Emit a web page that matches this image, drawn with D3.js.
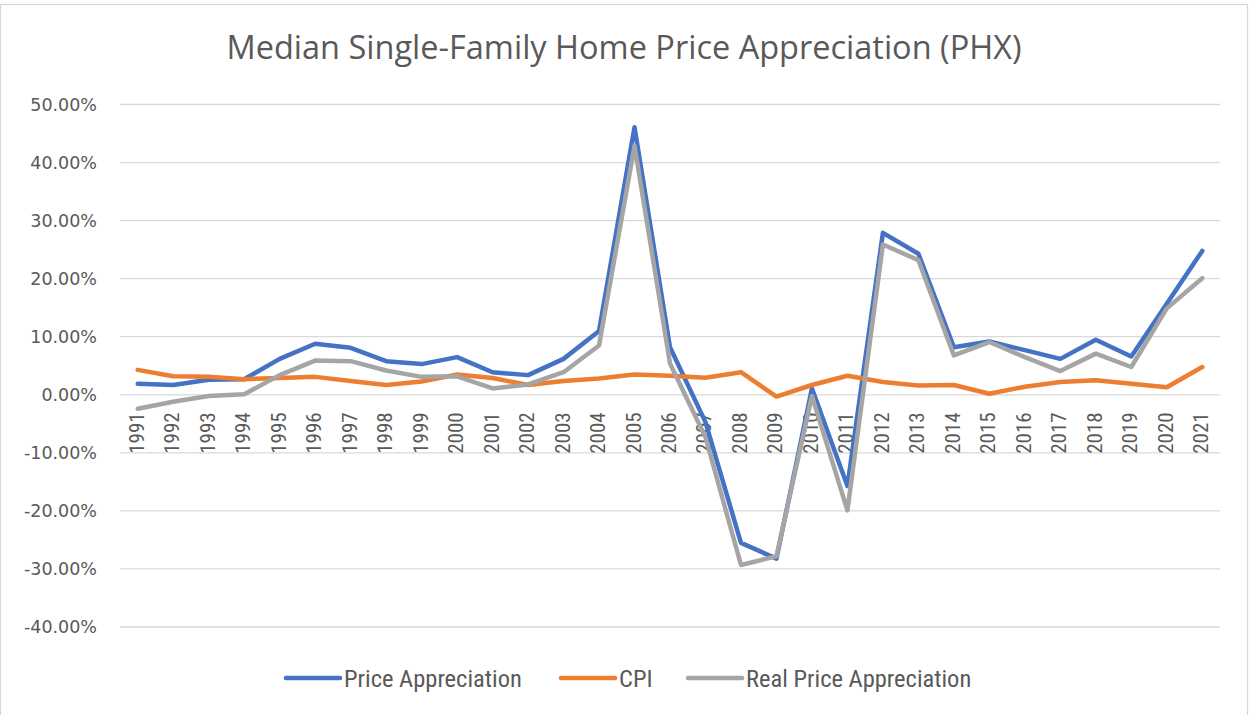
<!DOCTYPE html>
<html>
<head>
<meta charset="utf-8">
<script src="https://cdn.jsdelivr.net/npm/d3@7"></script>
<style>
  html, body { margin: 0; padding: 0; background: #fff; }
  svg { display: block; }
</style>
</head>
<body>
<div id="chart"></div>
<script>
// ── Data (annual % change, Phoenix) ─────────────────────────
const years = d3.range(1991, 2022).map(String);

const priceAppreciation = [1.8, 1.6, 2.5, 2.6, 6.1, 8.7, 8.0, 5.7, 5.2, 6.4, 3.8, 3.3, 6.1, 10.9, 46.0,
  8.1, -4.8, -25.6, -28.3, 1.0, -15.8, 27.8, 24.2, 8.1, 9.1, 7.6, 6.1, 9.4, 6.5, 15.6, 24.7];

const cpi = [4.2, 3.1, 3.0, 2.6, 2.8, 3.0, 2.3, 1.6, 2.2, 3.4, 2.8, 1.6, 2.3, 2.7, 3.4,
  3.2, 2.85, 3.8, -0.4, 1.6, 3.2, 2.1, 1.5, 1.6, 0.1, 1.3, 2.1, 2.4, 1.8, 1.2, 4.7];

const realPriceAppreciation = [-2.5, -1.3, -0.3, 0.0, 3.3, 5.8, 5.7, 4.1, 3.0, 3.1, 1.0, 1.7, 3.8, 8.4, 42.8,
  5.3, -7.4, -29.4, -27.9, -0.3, -20.0, 25.8, 23.1, 6.7, 9.0, 6.4, 4.0, 7.0, 4.7, 14.8, 20.0];

const yTicks = [-40, -30, -20, -10, 0, 10, 20, 30, 40, 50];

const series = [
  { name: 'Price Appreciation',      values: priceAppreciation,     color: '#4472C4' },
  { name: 'CPI',                     values: cpi,                   color: '#ED7D31' },
  { name: 'Real Price Appreciation', values: realPriceAppreciation, color: '#A5A5A5' },
];

// ── Layout ──────────────────────────────────────────────────
const width = 1249, height = 715;
const plot = { left: 120, right: 1220, top: 104, bottom: 626.5 };
const textColor = '#595959';
const gridColor = '#d9d9d9';

const svg = d3.select('#chart').append('svg')
  .attr('width', width)
  .attr('height', height);

// chart border
svg.append('rect')
  .attr('x', 0.5).attr('y', 4.5)
  .attr('width', width - 2).attr('height', height + 10)
  .attr('fill', '#fff')
  .attr('stroke', gridColor)
  .attr('stroke-width', 1.3);

const x = d3.scalePoint()
  .domain(years)
  .range([plot.left, plot.right])
  .padding(0.5);

const y = d3.scaleLinear()
  .domain([-40, 50])
  .range([plot.bottom, plot.top]);

// ── Title ───────────────────────────────────────────────────
svg.append('text')
  .attr('x', 624)
  .attr('y', 59)
  .attr('text-anchor', 'middle')
  .attr('fill', textColor)
  .attr('font-family', '"Open Sans", sans-serif')
  .attr('font-size', 32.5)
  .text('Median Single-Family Home Price Appreciation (PHX)');

// ── Gridlines + y axis labels ───────────────────────────────
const yAxis = d3.axisLeft(y)
  .tickValues(yTicks)
  .tickSize(-(plot.right - plot.left))
  .tickPadding(23)
  .tickFormat(d => d.toFixed(2) + '%');

const yG = svg.append('g')
  .attr('transform', `translate(${plot.left},0)`)
  .call(yAxis);
yG.select('.domain').remove();
yG.selectAll('.tick line').attr('stroke', gridColor).attr('stroke-width', 1.3);
yG.selectAll('.tick text')
  .attr('fill', textColor)
  .attr('font-family', '"DejaVu Sans", sans-serif')
  .attr('font-size', 17.5)
  .attr('dy', '0.36em');

// ── Category labels (sit on the 0% line) ────────────────────
const xG = svg.append('g')
  .attr('transform', `translate(0,${y(0)})`);
xG.selectAll('text')
  .data(years)
  .join('text')
  .attr('transform', d => `translate(${x(d) + 6},18) rotate(-90)`)
  .attr('text-anchor', 'end')
  .attr('fill', textColor)
  .attr('font-family', '"Liberation Sans Narrow", "Roboto Condensed", "Liberation Sans", sans-serif')
  .attr('font-size', 21)
  .text(d => d);

// ── Lines ───────────────────────────────────────────────────
const line = d3.line()
  .x((d, i) => x(years[i]))
  .y(d => y(d));

svg.append('g').selectAll('path')
  .data(series)
  .join('path')
  .attr('d', s => line(s.values))
  .attr('fill', 'none')
  .attr('stroke', s => s.color)
  .attr('stroke-width', 4.5)
  .attr('stroke-linejoin', 'round')
  .attr('stroke-linecap', 'round');

// ── Legend ──────────────────────────────────────────────────
const legendX = [286, 561, 688];
const legendG = svg.append('g').attr('transform', 'translate(0,678)');
series.forEach((s, i) => {
  const lx = legendX[i];
  legendG.append('line')
    .attr('x1', lx).attr('x2', lx + 54)
    .attr('y1', 0).attr('y2', 0)
    .attr('stroke', s.color)
    .attr('stroke-width', 4.5)
    .attr('stroke-linecap', 'round');
  legendG.append('text')
    .attr('x', lx + 58)
    .attr('y', 0)
    .attr('dy', '0.35em')
    .attr('fill', textColor)
    .attr('font-family', '"Liberation Sans Narrow", "Roboto Condensed", "Liberation Sans", sans-serif')
    .attr('font-size', 24.5)
    .text(s.name);
});
</script>
</body>
</html>
